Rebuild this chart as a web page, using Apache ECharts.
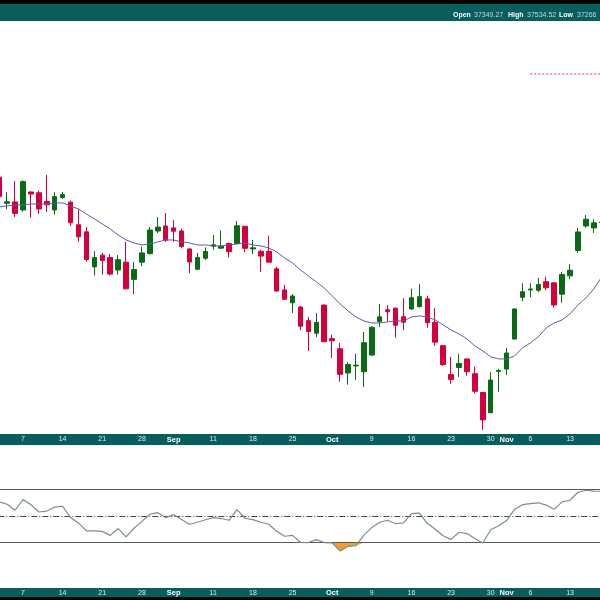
<!DOCTYPE html>
<html><head><meta charset="utf-8">
<script src="https://cdn.jsdelivr.net/npm/echarts/dist/echarts.min.js"></script>
<style>html,body{margin:0;padding:0;background:#fff}#c{width:600px;height:600px}</style>
</head><body><div id="c"></div>
<script>
const dates = ['Aug 1','Aug 2','Aug 3','Aug 4','Aug 7','Aug 8','Aug 9','Aug 10','Aug 11','Aug 14','Aug 15','Aug 16','Aug 17','Aug 18','Aug 21','Aug 22','Aug 23','Aug 24','Aug 25','Aug 28','Aug 29','Aug 30','Aug 31','Sep 1','Sep 5','Sep 6','Sep 7','Sep 8','Sep 11','Sep 12','Sep 13','Sep 14','Sep 15','Sep 18','Sep 19','Sep 20','Sep 21','Sep 22','Sep 25','Sep 26','Sep 27','Sep 28','Sep 29','Oct 2','Oct 3','Oct 4','Oct 5','Oct 6','Oct 9','Oct 10','Oct 11','Oct 12','Oct 13','Oct 16','Oct 17','Oct 18','Oct 19','Oct 20','Oct 23','Oct 24','Oct 25','Oct 26','Oct 27','Oct 30','Oct 31','Nov 1','Nov 2','Nov 3','Nov 6','Nov 7','Nov 8','Nov 9','Nov 10','Nov 13','Nov 14','Nov 15','Nov 16','Nov 17'];
const opens  = [35580,35530,35195,35213,35110,35340,35330,35220,35110,35270,35210,34920,34830,34380,34530,34500,34340,34440,34220,34440,34550,34840,34905,34880,34840,34610,34350,34490,34645,34620,34680,34680,34900,34610,34580,34580,34355,34085,33920,33866,33690,33530,33890,33460,33330,33020,33110,33035,33250,33680,33830,33850,33740,33840,33870,33970,33670,33370,33000,33090,33200,33010,32770,32510,33040,33070,33455,33990,34085,34080,34190,34175,34030,34265,34590,34905,34880,34955];
const highs  = [35680,35560,35340,35480,35490,35350,35360,35560,35340,35340,35230,35120,34890,34580,34560,34545,34530,34700,34440,34640,34890,35020,35070,34980,34870,34620,34560,34630,34790,34850,34690,34970,34905,34725,34600,34780,34380,34150,34030,33880,33740,33790,33900,33510,33405,33160,33265,33545,33620,33905,33890,33860,33980,34100,34160,34010,33850,33380,33225,33265,33205,33100,32775,33030,33070,33340,33850,34170,34170,34240,34255,34180,34315,34415,34880,35045,34990,35025];
const lows   = [35500,35250,35120,35020,35090,35010,35060,35085,35050,35250,34905,34700,34450,34270,34280,34270,34280,34090,34030,34390,34540,34815,34700,34700,34620,34300,34340,34470,34600,34610,34500,34670,34570,34545,34315,34440,34065,33960,33790,33570,33300,33480,33420,33210,32905,32870,32930,32840,33240,33610,33680,33470,33570,33830,33860,33600,33365,33110,32880,32970,32985,32760,32290,32505,32780,32995,33450,33940,33990,34055,34080,33860,33920,34225,34560,34880,34815,34890];
const closes = [35630,35282,35215,35066,35473,35314,35123,35176,35281,35307,34946,34765,34474,34500,34463,34288,34472,34099,34346,34559,34852,34890,34722,34837,34642,34443,34501,34577,34663,34646,34575,34907,34618,34624,34518,34441,34070,33964,34007,33619,33551,33667,33420,33433,33002,33129,33120,33408,33605,33740,33805,33631,33670,33985,33998,33665,33415,33127,32937,33141,33036,32785,32418,32929,33053,33275,33840,34062,34096,34153,34112,33892,34283,34337,34828,34991,34945,34947];
const movingAvg = [35149,35149,35161,35174,35174,35187,35187,35187,35200,35200,35161,35123,35059,34995,34931,34866,34790,34725,34687,34661,34674,34700,34725,34725,34700,34687,34661,34661,34649,34649,34661,34674,34687,34661,34649,34623,34572,34495,34431,34341,34264,34187,34110,34008,33905,33815,33738,33687,33661,33661,33674,33687,33687,33738,33751,33738,33700,33636,33572,33520,33456,33367,33302,33226,33200,33200,33238,33341,33405,33482,33597,33661,33700,33777,33892,33982,34097,34251];
const rsi = [61.8,60.5,58.8,54.3,62.3,58.4,53.0,53.7,56.7,57.3,48.8,44.8,38.8,38.8,38.5,35.5,40.6,34.3,40.8,46.0,51.3,52.5,48.8,51.0,47.3,43.8,45.3,47.2,48.8,48.1,46.8,54.8,48.3,47.3,45.3,43.8,38.5,34.8,35.5,30.3,30.1,32.3,30.1,29.8,23.8,27.3,27.8,35.7,41.3,45.3,46.8,44.2,44.8,51.8,52.2,44.5,40.0,35.2,32.5,37.8,36.8,33.1,29.8,39.7,42.7,46.6,55.0,58.5,59.3,59.9,58.2,55.0,60.6,61.8,67.8,69.3,68.7,68.5];
const tickDates = ['Aug 1','Aug 7','Aug 14','Aug 21','Aug 28','Sep 1','Sep 11','Sep 18','Sep 25','Oct 2','Oct 9','Oct 16','Oct 23','Oct 30','Nov 1','Nov 6','Nov 13'];
const tickTexts = ['Aug','7','14','21','28','Sep','11','18','25','Oct','9','16','23','30','Nov','6','13'];
const monthNames = ['Aug','Sep','Oct','Nov'];
const rsiLevels = [70, 50, 30];
const levelPrice = 36854;
const levelFrom = 'Nov 6';
const headerLabels = ['Open','High','Low'];
const headerValues = ['37349.27','37534.52','37266'];

const TEAL = '#085d5d';
const UP = '#0b6a14', DOWN = '#d5003b';
const FONT = '"Liberation Sans", Arial, sans-serif';

const ohlc = dates.map((d,i)=>[opens[i],closes[i],lows[i],highs[i]]);
const levelData = dates.map((d,i)=> i >= dates.indexOf(levelFrom) ? levelPrice : null);
const osBase = rsi.map(v=>Math.min(v,30));
const osFill = rsi.map(v=>30-Math.min(v,30));

function fmt(value){
  const k = tickDates.indexOf(value);
  if (k < 0) return '';
  const t = tickTexts[k];
  return monthNames.indexOf(t) >= 0 ? '{m|'+t+'}' : t;
}
const labelCommon = {interval:0, color:'#dfeaea', fontSize:7, fontFamily:FONT, formatter: fmt,
  rich:{m:{fontWeight:'bold', color:'#ffffff', fontSize:7.5, fontFamily:FONT}}};

const chart = echarts.init(document.getElementById('c'), null, {renderer:'canvas'});
const headerGraphics = [];
const hx = [[453,474],[508,527],[559,577]];
headerLabels.forEach((l,i)=>{
  headerGraphics.push({type:'text', x:hx[i][0], y:15.5, z:20, style:{text:l, fill:'#ffffff', font:'bold 7px '+FONT, verticalAlign:'middle'}});
  headerGraphics.push({type:'text', x:hx[i][1], y:15.5, z:20, style:{text:headerValues[i], fill:'#c9d6d6', font:'7px '+FONT, verticalAlign:'middle'}});
});

chart.setOption({
  animation:false,
  backgroundColor:'#ffffff',
  graphic:[
    {type:'rect', shape:{x:0,y:0,width:600,height:4}, style:{fill:'#000'}, z:-10},
    {type:'rect', shape:{x:0,y:4,width:600,height:17}, style:{fill:TEAL}, z:-10},
    {type:'rect', shape:{x:0,y:434,width:600,height:11}, style:{fill:TEAL}, z:-10},
    {type:'rect', shape:{x:0,y:588,width:600,height:9}, style:{fill:TEAL}, z:-10},
    {type:'rect', shape:{x:0,y:597,width:600,height:3}, style:{fill:'#000'}, z:-10}
  ].concat(headerGraphics),
  grid:[
    {left:-12.7, right:-5.7, top:22, bottom:167, outerBoundsMode:'none', containLabel:false},
    {left:-12.7, right:-5.7, top:449.3, bottom:17.3, outerBoundsMode:'none', containLabel:false}
  ],
  xAxis:[
    {type:'category', gridIndex:0, data:dates, boundaryGap:true, z:10,
     axisLine:{show:false}, axisTick:{show:false}, splitLine:{show:false},
     axisLabel:Object.assign({margin:3}, labelCommon)},
    {type:'category', gridIndex:1, data:dates, boundaryGap:true, z:10,
     axisLine:{show:false}, axisTick:{show:false}, splitLine:{show:false},
     axisLabel:Object.assign({margin:6.5}, labelCommon)}
  ],
  yAxis:[
    {type:'value', gridIndex:0, min:32250, max:37520, show:false, splitLine:{show:false}},
    {type:'value', gridIndex:1, min:0, max:100, show:false, splitLine:{show:false}}
  ],
  series:[
    {type:'candlestick', xAxisIndex:0, yAxisIndex:0, data:ohlc, barWidth:5,
     itemStyle:{color:UP, color0:DOWN, borderColor:UP, borderColor0:DOWN, borderWidth:1}},
    {type:'line', xAxisIndex:0, yAxisIndex:0, data:movingAvg, symbol:'none', z:3,
     lineStyle:{color:'#5d5ca6', width:1}},
    {type:'line', xAxisIndex:0, yAxisIndex:0, data:levelData, symbol:'none', connectNulls:false,
     lineStyle:{color:'#e0302f', width:1, type:[2,2]}},
    {type:'line', xAxisIndex:1, yAxisIndex:1, data:osBase, stack:'os', symbol:'none',
     lineStyle:{opacity:0}, silent:true},
    {type:'line', xAxisIndex:1, yAxisIndex:1, data:osFill, stack:'os', symbol:'none',
     lineStyle:{opacity:0}, areaStyle:{color:'#f0a22a', opacity:1}, silent:true},
    {type:'line', xAxisIndex:1, yAxisIndex:1, data:rsi, symbol:'none', z:5,
     lineStyle:{color:'#7a8d8d', width:1.2},
     markLine:{silent:true, symbol:'none', label:{show:false},
       data: rsiLevels.map(v=>({yAxis:v, lineStyle: v===50 ? {color:'#444', width:1, type:[6,2,1,2]} : {color:'#5a5a5a', width:1, type:'solid'}}))}}
  ]
});
</script></body></html>
